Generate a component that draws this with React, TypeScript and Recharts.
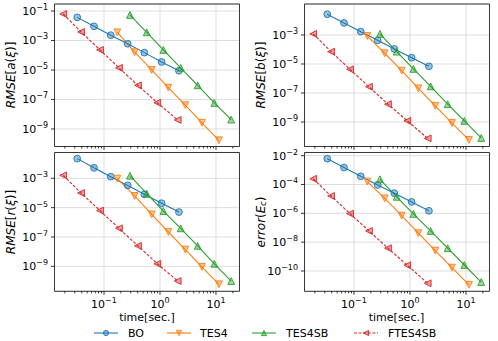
import React from 'react';
import {
  LineChart,
  Line,
  XAxis,
  YAxis,
  CartesianGrid,
  ReferenceLine,
} from 'recharts';

// method names, in drawing / legend order
const methods = ['BO', 'TES4', 'TES4SB', 'FTES4SB'];

// wall-clock time of each run [sec.] (same for every panel)
const timeBO = [0.0333, 0.0663, 0.132, 0.265, 0.525, 1.07, 2.18];
const timeTES4 = [0.173, 0.353, 0.711, 1.41, 2.83, 5.62, 11.3];
const timeTES4SB = [0.291, 0.579, 1.15, 2.34, 4.71, 9.34, 18.7];
const timeFTES4SB = [0.0187, 0.0389, 0.0849, 0.185, 0.404, 0.895, 2.07];

// RMSE[a(xi)]
const rmseA_BO = [3.7e-2, 9.1e-3, 2.3e-3, 6.0e-4, 1.5e-4, 3.5e-5, 8.9e-6];
const rmseA_TES4 = [3.6e-3, 1.6e-4, 1.0e-5, 6.3e-7, 4.1e-8, 2.6e-9, 1.7e-10];
const rmseA_TES4SB = [5.4e-2, 3.6e-3, 2.3e-4, 1.4e-5, 9.1e-7, 5.8e-8, 4.3e-9];
const rmseA_FTES4SB = [6.3e-2, 3.8e-3, 2.3e-4, 1.4e-5, 9.1e-7, 6.0e-8, 4.1e-9];

// RMSE[b(xi)]
const rmseB_BO = [2.7e-2, 6.8e-3, 1.7e-3, 4.3e-4, 1.1e-4, 2.7e-5, 6.9e-6];
const rmseB_TES4 = [8.5e-4, 5.5e-5, 3.5e-6, 2.1e-7, 1.3e-8, 8.5e-10, 5.8e-11];
const rmseB_TES4SB = [1.2e-3, 7.1e-5, 4.6e-6, 2.9e-7, 1.7e-8, 1.2e-9, 7.9e-11];
const rmseB_FTES4SB = [1.2e-3, 7.1e-5, 4.3e-6, 2.7e-7, 1.7e-8, 1.2e-9, 7.4e-11];

// RMSE[r(xi)]
const rmseR_BO = [2.2e-2, 5.2e-3, 1.3e-3, 3.3e-4, 8.1e-5, 2.0e-5, 5.0e-6];
const rmseR_TES4 = [9.5e-4, 6.3e-5, 3.5e-6, 2.2e-7, 1.4e-8, 9.1e-10, 6.0e-11];
const rmseR_TES4SB = [1.5e-3, 8.9e-5, 5.9e-6, 3.9e-7, 2.5e-8, 1.5e-9, 1.0e-10];
const rmseR_FTES4SB = [1.6e-3, 1.0e-4, 6.3e-6, 3.9e-7, 2.5e-8, 1.5e-9, 1.0e-10];

// error(E_c)
const errE_BO = [6.2e-3, 1.5e-3, 3.7e-4, 9.3e-5, 2.5e-5, 6.2e-6, 1.5e-6];
const errE_TES4 = [1.6e-4, 1.1e-5, 6.9e-7, 4.2e-8, 2.6e-9, 1.7e-10, 1.1e-11];
const errE_TES4SB = [2.3e-4, 1.4e-5, 9.1e-7, 6.0e-8, 3.8e-9, 2.6e-10, 1.7e-11];
const errE_FTES4SB = [2.5e-4, 1.6e-5, 9.5e-7, 6.0e-8, 3.8e-9, 2.5e-10, 1.4e-11];

// tick values
const xMajorTicks = [0.1, 1, 10];
const xMinorTicks = [
  0.02, 0.03, 0.04, 0.05, 0.06, 0.07, 0.08, 0.09,
  0.2, 0.3, 0.4, 0.5, 0.6, 0.7, 0.8, 0.9,
  2, 3, 4, 5, 6, 7, 8, 9, 20,
];
const yTicksA = [1e-1, 1e-3, 1e-5, 1e-7, 1e-9];
const yTicksB = [1e-3, 1e-5, 1e-7, 1e-9];
const yTicksR = [1e-3, 1e-5, 1e-7, 1e-9];
const yTicksE = [1e-2, 1e-4, 1e-6, 1e-8, 1e-10];

const times = [timeBO, timeTES4, timeTES4SB, timeFTES4SB];

const COLORS = ['#1f77b4', '#ff7f0e', '#2ca02c', '#d62728'];
const SHAPES = ['circle', 'down', 'up', 'left'];
const DASHES = [undefined, undefined, undefined, '3 1.6'];
const FONT = '"DejaVu Sans", sans-serif';
const GRID = '#d4d4d4';
const SPINE = '#222';

const X_DOMAIN = [0.01306, 26.3];

const MarkerShape = ({ cx, cy, shape, color, r = 3.4 }: any) => {
  const common = {
    fill: color,
    fillOpacity: 0.45,
    stroke: color,
    strokeWidth: 1,
    strokeOpacity: 0.9,
  };
  if (shape === 'circle') return <circle cx={cx} cy={cy} r={r} {...common} />;
  let pts: number[][] = [];
  if (shape === 'down') pts = [[cx - r, cy - r], [cx + r, cy - r], [cx, cy + r]];
  if (shape === 'up') pts = [[cx - r, cy + r], [cx + r, cy + r], [cx, cy - r]];
  if (shape === 'left') pts = [[cx + r, cy - r], [cx + r, cy + r], [cx - r, cy]];
  return <polygon points={pts.map((p) => p.join(',')).join(' ')} {...common} />;
};

const makeDot = (shape: string, color: string) => (props: any) => {
  const { cx, cy, index } = props;
  if (cx == null || cy == null) return <g key={index} />;
  return (
    <g key={`d-${index}`}>
      <MarkerShape cx={cx} cy={cy} shape={shape} color={color} />
    </g>
  );
};

const exponent = (v: number) => {
  const e = Math.round(Math.log10(v));
  return e < 0 ? `\u2212${-e}` : `${e}`;
};

const YTick = (props: any) => {
  const { x, y, payload } = props;
  return (
    <text x={x} y={y} dy={4} textAnchor="end" fontSize={11} fontFamily={FONT} fill="#000">
      10
      <tspan dy={-5} fontSize={8}>
        {exponent(payload.value)}
      </tspan>
    </text>
  );
};

const XTick = (props: any) => {
  const { x, y, payload, showLabel } = props;
  const v = payload.value;
  const isMajor = xMajorTicks.some((m) => Math.abs(m - v) < 1e-9);
  return (
    <g>
      <line x1={x} x2={x} y1={y} y2={y + (isMajor ? 3.5 : 2)} stroke="#000" strokeWidth={0.8} />
      {showLabel && isMajor && (
        <text x={x} y={y + 17} textAnchor="middle" fontSize={11} fontFamily={FONT} fill="#000">
          10
          <tspan dy={-5} fontSize={8}>
            {exponent(v)}
          </tspan>
        </text>
      )}
    </g>
  );
};

interface PanelProps {
  left: number;
  top: number;
  width: number;
  height: number;
  marginTop: number;
  xAxisHeight: number;
  yDomain: number[];
  yTicks: number[];
  values: number[][];
  showXLabels: boolean;
}

const Panel: React.FC<PanelProps> = ({
  left,
  top,
  width,
  height,
  marginTop,
  xAxisHeight,
  yDomain,
  yTicks,
  values,
  showXLabels,
}) => {
  const allX = [...xMinorTicks, ...xMajorTicks].sort((a, b) => a - b);
  return (
    <div style={{ position: 'absolute', left, top }}>
      <LineChart
        width={width}
        height={height}
        margin={{ top: marginTop, right: 9, bottom: 0, left: 0 }}
      >
        <CartesianGrid vertical={false} stroke={GRID} strokeWidth={0.8} />
        {xMajorTicks.map((t) => (
          <ReferenceLine key={t} x={t} stroke={GRID} strokeWidth={0.8} />
        ))}
        <XAxis
          type="number"
          dataKey="t"
          scale="log"
          domain={X_DOMAIN}
          allowDataOverflow
          ticks={allX}
          interval={0}
          tickSize={0}
          tickMargin={0}
          tickLine={false}
          axisLine={{ stroke: SPINE, strokeWidth: 0.9 }}
          height={xAxisHeight}
          tick={<XTick showLabel={showXLabels} />}
        />
        <YAxis
          type="number"
          scale="log"
          domain={yDomain}
          allowDataOverflow
          ticks={yTicks}
          interval={0}
          width={54.5}
          tickSize={3.5}
          tickMargin={3}
          tickLine={{ stroke: '#000', strokeWidth: 0.8 }}
          axisLine={{ stroke: SPINE, strokeWidth: 0.9 }}
          tick={<YTick />}
        />
        {values.map((vals, i) => (
          <Line
            key={methods[i]}
            data={times[i].map((t, j) => ({ t, v: vals[j] }))}
            dataKey="v"
            name={methods[i]}
            stroke={COLORS[i]}
            strokeWidth={1.1}
            strokeDasharray={DASHES[i]}
            dot={makeDot(SHAPES[i], COLORS[i])}
            activeDot={false}
            isAnimationActive={false}
          />
        ))}
        {/* top and right spines */}
        <ReferenceLine y={yDomain[1]} stroke={SPINE} strokeWidth={0.9} ifOverflow="visible" />
        <ReferenceLine x={X_DOMAIN[1]} stroke={SPINE} strokeWidth={0.9} ifOverflow="visible" />
      </LineChart>
    </div>
  );
};

const d = (lo: number, hi: number) => [Math.pow(10, lo), Math.pow(10, hi)];

const YLabel = ({ x, y, children }: any) => (
  <text
    x={x}
    y={y}
    transform={`rotate(-90 ${x} ${y})`}
    textAnchor="middle"
    dominantBaseline="central"
    fontSize={12}
    fontFamily={FONT}
    fill="#000"
  >
    {children}
  </text>
);

const legendPos = [
  { x1: 94, tx: 128 },
  { x1: 167, tx: 200 },
  { x1: 252, tx: 286 },
  { x1: 354, tx: 388 },
];

const App: React.FC = () => {
  return (
    <div
      style={{
        position: 'absolute',
        left: 0,
        top: 0,
        width: 498,
        height: 341,
        background: '#fff',
        fontFamily: FONT,
      }}
    >
      <Panel
        left={0}
        top={0}
        width={248.5}
        height={150.5}
        marginTop={4}
        xAxisHeight={4}
        yDomain={d(-10.19, -0.525)}
        yTicks={yTicksA}
        values={[rmseA_BO, rmseA_TES4, rmseA_TES4SB, rmseA_FTES4SB]}
        showXLabels={false}
      />
      <Panel
        left={249.5}
        top={0}
        width={248.5}
        height={150.5}
        marginTop={4}
        xAxisHeight={4}
        yDomain={d(-10.69, -0.862)}
        yTicks={yTicksB}
        values={[rmseB_BO, rmseB_TES4, rmseB_TES4SB, rmseB_FTES4SB]}
        showXLabels={false}
      />
      <Panel
        left={0}
        top={148}
        width={248.5}
        height={163.3}
        marginTop={4.5}
        xAxisHeight={20}
        yDomain={d(-10.7, -1.24)}
        yTicks={yTicksR}
        values={[rmseR_BO, rmseR_TES4, rmseR_TES4SB, rmseR_FTES4SB]}
        showXLabels
      />
      <Panel
        left={249.5}
        top={148}
        width={248.5}
        height={163.3}
        marginTop={4.5}
        xAxisHeight={20}
        yDomain={d(-11.41, -1.78)}
        yTicks={yTicksE}
        values={[errE_BO, errE_TES4, errE_TES4SB, errE_FTES4SB]}
        showXLabels
      />
      <svg
        width={498}
        height={341}
        style={{ position: 'absolute', left: 0, top: 0, pointerEvents: 'none' }}
      >
        <YLabel x={11} y={75}>
          <tspan fontStyle="italic">RMSE</tspan>[<tspan fontStyle="italic">a</tspan>(
          <tspan fontStyle="italic">ξ</tspan>)]
        </YLabel>
        <YLabel x={261} y={75}>
          <tspan fontStyle="italic">RMSE</tspan>[<tspan fontStyle="italic">b</tspan>(
          <tspan fontStyle="italic">ξ</tspan>)]
        </YLabel>
        <YLabel x={11} y={222}>
          <tspan fontStyle="italic">RMSE</tspan>[<tspan fontStyle="italic">r</tspan>(
          <tspan fontStyle="italic">ξ</tspan>)]
        </YLabel>
        <YLabel x={261} y={222}>
          <tspan fontStyle="italic">error</tspan>(<tspan fontStyle="italic">E</tspan>
          <tspan fontStyle="italic" fontSize={8} dy={2}>
            c
          </tspan>
          <tspan dy={-2}>)</tspan>
        </YLabel>
        <text x={147} y={321} textAnchor="middle" fontSize={11} fontFamily={FONT} fill="#000">
          time[sec.]
        </text>
        <text x={396.5} y={321} textAnchor="middle" fontSize={11} fontFamily={FONT} fill="#000">
          time[sec.]
        </text>
        {methods.map((m, i) => {
          const { x1, tx } = legendPos[i];
          const y = 333;
          return (
            <g key={m}>
              <line
                x1={x1}
                x2={x1 + 24}
                y1={y}
                y2={y}
                stroke={COLORS[i]}
                strokeWidth={1.1}
                strokeDasharray={DASHES[i]}
              />
              <MarkerShape cx={x1 + 12} cy={y} shape={SHAPES[i]} color={COLORS[i]} r={2.6} />
              <text
                x={tx}
                y={y}
                dominantBaseline="central"
                fontSize={11}
                fontFamily={FONT}
                fill="#000"
              >
                {m}
              </text>
            </g>
          );
        })}
      </svg>
    </div>
  );
};

export default App;
